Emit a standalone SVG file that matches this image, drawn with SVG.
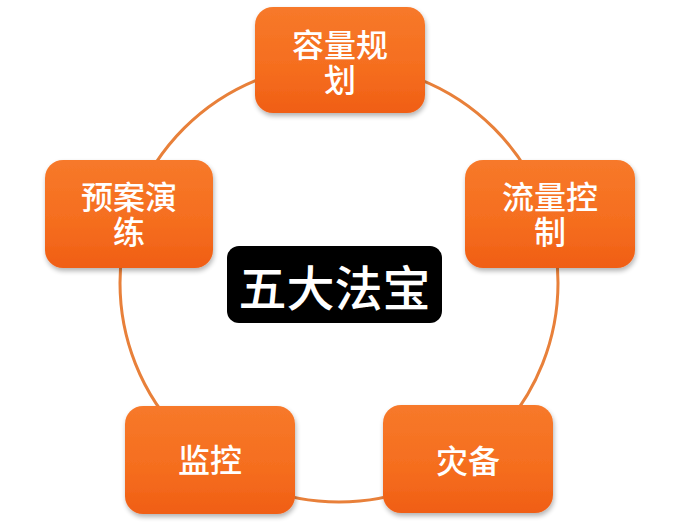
<svg xmlns="http://www.w3.org/2000/svg" width="675" height="529" viewBox="0 0 675 529">
<defs>
<linearGradient id="og" x1="0" y1="0" x2="0" y2="1">
<stop offset="0" stop-color="#F7792A"/>
<stop offset="0.6" stop-color="#F56D1E"/>
<stop offset="1" stop-color="#F05E15"/>
</linearGradient>
<filter id="sh" x="-10%" y="-10%" width="125%" height="130%">
<feGaussianBlur in="SourceAlpha" stdDeviation="2.5"/>
<feOffset dx="1" dy="3" result="b"/>
<feComponentTransfer><feFuncA type="linear" slope="0.3"/></feComponentTransfer>
<feMerge><feMergeNode/><feMergeNode in="SourceGraphic"/></feMerge>
</filter>
</defs>
<style>
.box{fill:url(#og);filter:url(#sh);}
.t{font-family:"Noto Sans CJK SC","Noto Sans",sans-serif;font-size:32px;fill:#FFFFFF;text-anchor:middle;font-weight:500;}
.c{font-family:"Noto Sans CJK SC","Noto Sans",sans-serif;font-size:48px;fill:#FFFFFF;text-anchor:middle;font-weight:500;}
</style>
<rect width="675" height="529" fill="#FFFFFF"/>
<g id="connectors">
<circle cx="339" cy="283" r="219" fill="none" stroke="#E8803A" stroke-width="3"/>
</g>
<g id="n1">
<rect class="box" x="255" y="7" width="170" height="106" rx="18"/>
<text class="t" x="340" y="57">容量规<tspan x="340" dy="35">划</tspan></text>
</g>
<g id="n2">
<rect class="box" x="465" y="160" width="170" height="108" rx="18"/>
<text class="t" x="550" y="209">流量控<tspan x="550" dy="35">制</tspan></text>
</g>
<g id="n3">
<rect class="box" x="383" y="405" width="170" height="108" rx="18"/>
<text class="t" x="468" y="473">灾备</text>
</g>
<g id="n4">
<rect class="box" x="125" y="406" width="170" height="108" rx="18"/>
<text class="t" x="210" y="472">监控</text>
</g>
<g id="n5">
<rect class="box" x="45" y="160" width="168" height="108" rx="18"/>
<text class="t" x="129" y="209">预案演<tspan x="129" dy="35">练</tspan></text>
</g>
<g id="center">
<rect x="227" y="246" width="215" height="77" rx="12" fill="#000000"/>
<text class="c" x="334.5" y="306">五大法宝</text>
</g>
</svg>
